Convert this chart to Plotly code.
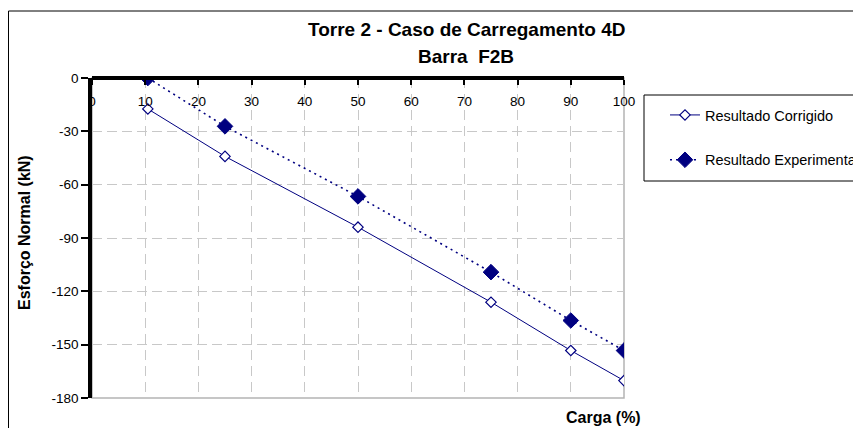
import plotly.graph_objects as go

# ---- data ----
carga = [10.5, 25, 50, 75, 90, 100]
corrigido = [-17.4, -44.1, -83.9, -126.1, -153.3, -170.2]
experimental = [0, -27.2, -66.6, -109.2, -136.4, -153.3]
x_ticks = [0, 10, 20, 30, 40, 50, 60, 70, 80, 90, 100]
y_ticks = [0, -30, -60, -90, -120, -150, -180]
title_line1 = "Torre 2 - Caso de Carregamento 4D"
title_line2 = "Barra  F2B"
x_title = "Carga (%)"
y_title = "Esforço Normal (kN)"

# the page body has an 8px margin, so the figure is drawn 8px in from the window corner
OFF = 8
W, H = 861 - OFF, 428 - OFF
L, R, T, B = 84, 237, 70, 30
PW, PH = W - L - R, H - T - B


def px(x):  # window (reference) pixel -> paper
    return (x - OFF - L) / PW


def py(y):
    return (H - B - (y - OFF)) / PH


FONT = "Liberation Sans, Arial, sans-serif"
NAVY = "#000080"

fig = go.Figure()
fig.add_trace(go.Scatter(
    x=carga, y=corrigido, name="Resultado Corrigido", mode="lines+markers",
    line=dict(color=NAVY, width=1),
    marker=dict(symbol="diamond", size=8, color="white", line=dict(color=NAVY, width=1.2)),
    legendgroup="a",
))
fig.add_trace(go.Scatter(
    x=carga, y=experimental, name="Resultado Experimental", mode="lines+markers",
    line=dict(color=NAVY, width=1.6, dash="2px,4px"),
    marker=dict(symbol="diamond", size=12, color=NAVY, line=dict(color=NAVY, width=1)),
    legendgroup="b",
))

grid_col = "#c8c8c8"
fig.update_layout(
    width=W, height=H,
    margin=dict(l=L, r=R, t=T, b=B, autoexpand=False),
    paper_bgcolor="white", plot_bgcolor="white",
    font=dict(family=FONT, color="black", size=13.5),
    showlegend=True,
    legend=dict(
        x=px(665), xanchor="left", y=py(99), yanchor="top",
        font=dict(size=14.5, family=FONT), bgcolor="rgba(0,0,0,0)",
        tracegroupgap=23, itemwidth=30,
    ),
    xaxis=dict(
        range=[0, 100], tickvals=x_ticks, ticktext=[str(v) for v in x_ticks],
        anchor="free", position=1, side="bottom",
        showline=True, linecolor="black", linewidth=3.5,
        ticks="outside", ticklen=5, tickwidth=2, tickcolor="black",
        ticklabelstandoff=5,
        showgrid=True, gridcolor=grid_col, gridwidth=1, griddash="10px,6px",
        zeroline=False, tickfont=dict(size=13.5),
    ),
    yaxis=dict(
        range=[-180, 0], tickvals=y_ticks, ticktext=[str(v) for v in y_ticks],
        showline=True, linecolor="black", linewidth=3.5,
        ticks="outside", ticklen=7, tickwidth=2, tickcolor="black",
        showgrid=True, gridcolor=grid_col, gridwidth=1, griddash="10px,5px",
        zeroline=False, tickfont=dict(size=13.5),
    ),
    shapes=[
        # plot area border (grey)
        dict(type="rect", xref="paper", yref="paper", x0=0, x1=1, y0=0, y1=1,
             line=dict(color="#b4b4b4", width=1.5), layer="below"),
        # outer chart border
        dict(type="rect", xref="paper", yref="paper", x0=px(8.5), x1=px(1100), y0=py(700), y1=py(11),
             line=dict(color="black", width=1)),
        # legend box
        dict(type="rect", xref="paper", yref="paper", x0=px(644), x1=px(1100), y0=py(181), y1=py(95),
             line=dict(color="black", width=1)),
    ],
    annotations=[
        dict(text="<b>%s</b>" % title_line1, xref="paper", yref="paper", x=px(466), y=py(29),
             xanchor="center", yanchor="middle", showarrow=False, font=dict(size=19)),
        dict(text="<b>%s</b>" % title_line2, xref="paper", yref="paper", x=px(466), y=py(57),
             xanchor="center", yanchor="middle", showarrow=False, font=dict(size=19)),
        dict(text="<b>%s</b>" % x_title, xref="paper", yref="paper", x=px(603), y=py(417),
             xanchor="center", yanchor="middle", showarrow=False, font=dict(size=16)),
        dict(text="<b>%s</b>" % y_title, xref="paper", yref="paper", x=px(24), y=py(233),
             xanchor="center", yanchor="middle", showarrow=False, textangle=-90, font=dict(size=16)),
    ],
)

fig.write_html("out.html")
